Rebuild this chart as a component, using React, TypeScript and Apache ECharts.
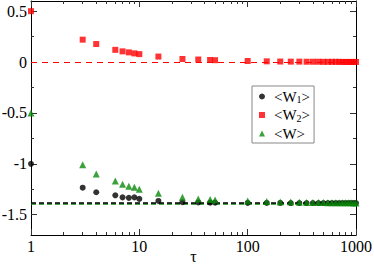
import { useEffect, useRef } from "react";
import * as echarts from "echarts";

const TAU = [1, 3, 4, 6, 7, 8, 9, 10, 15, 25, 35, 45, 50, 100, 150, 200, 250, 300, 350, 400, 450, 500, 550, 600, 650, 700, 750, 800, 850, 900, 950, 1000];
const W1 = [-1.0, -1.235, -1.28, -1.31, -1.33, -1.335, -1.33, -1.345, -1.365, -1.378, -1.38, -1.382, -1.382, -1.384, -1.385, -1.385, -1.386, -1.386, -1.386, -1.386, -1.386, -1.386, -1.386, -1.386, -1.386, -1.386, -1.386, -1.386, -1.386, -1.386, -1.386, -1.386];
const W2 = [0.5, 0.22, 0.177, 0.12, 0.105, 0.095, 0.085, 0.078, 0.054, 0.03, 0.025, 0.02, 0.018, 0.01, 0.007, 0.005, 0.004, 0.004, 0.003, 0.003, 0.003, 0.002, 0.002, 0.002, 0.002, 0.002, 0.001, 0.001, 0.001, 0.001, 0.001, 0.001];
const W = [-0.5, -1.01, -1.1, -1.17, -1.2, -1.22, -1.23, -1.25, -1.29, -1.33, -1.345, -1.35, -1.355, -1.365, -1.37, -1.375, -1.375, -1.378, -1.38, -1.38, -1.381, -1.381, -1.382, -1.382, -1.383, -1.383, -1.383, -1.384, -1.384, -1.384, -1.385, -1.385];

const SERIES_NAMES = ["<W1>", "<W2>", "<W>"];
const Y_TICKS = [-1.5, -1, -0.5, 0, 0.5];
const Y_MINOR = [-1.25, -0.75, -0.25, 0.25];
const X_MINOR = [2, 3, 4, 5, 6, 7, 8, 9, 20, 30, 40, 50, 60, 70, 80, 90, 200, 300, 400, 500, 600, 700, 800, 900];
const W2_LIMIT = 0;
const W1_LIMIT = -1.381;
const W_LIMIT = -1.391;

const FONT = "'Liberation Serif', 'Times New Roman', serif";
const GREEN = "#0a8a0a";
const RED = "#ff0000";

export default function App() {
  const ref = useRef<HTMLDivElement>(null);
  useEffect(() => {
    if (!ref.current) return;
    const chart = echarts.init(ref.current, null, { renderer: "svg" });
    const minorLog = X_MINOR.map((v) => Math.log10(v));
    const axisCol = "#000";
    const tickCol = "#333";
    const majorX = (pos: string) => ({
      type: "log",
      logBase: 10,
      min: 1,
      max: 1000,
      position: pos,
      axisLine: { show: true, onZero: false, lineStyle: { color: axisCol, width: 1 } },
      axisTick: { show: true, inside: true, length: 6, lineStyle: { color: tickCol } },
      axisLabel: pos === "bottom"
        ? { show: true, color: "#000", fontFamily: FONT, fontSize: 16, margin: 3, formatter: (v: number) => String(Math.round(v)) }
        : { show: false },
      splitLine: { show: false },
      name: pos === "bottom" ? "τ" : "",
      nameLocation: "middle",
      nameGap: 13,
      nameMoveOverlap: false,
      nameTextStyle: { color: "#000", fontFamily: FONT, fontSize: 16 },
    });
    const minorX = (pos: string) => ({
      type: "value",
      min: 0,
      max: 3,
      position: pos,
      axisLine: { show: false, onZero: false },
      axisTick: { show: true, inside: true, length: 3, customValues: minorLog, lineStyle: { color: tickCol } },
      axisLabel: { show: false },
      splitLine: { show: false },
    });
    const majorY = (pos: string) => ({
      type: "value",
      min: -1.7,
      max: 0.6,
      position: pos,
      axisLine: { show: true, onZero: false, lineStyle: { color: axisCol, width: 1 } },
      axisTick: { show: true, inside: true, length: 6, customValues: Y_TICKS, lineStyle: { color: tickCol } },
      axisLabel: pos === "left"
        ? { show: true, customValues: Y_TICKS, color: "#000", fontFamily: FONT, fontSize: 16, margin: 4 }
        : { show: false },
      splitLine: { show: false },
    });
    const minorY = (pos: string) => ({
      type: "value",
      min: -1.7,
      max: 0.6,
      position: pos,
      axisLine: { show: false, onZero: false },
      axisTick: { show: true, inside: true, length: 3, customValues: Y_MINOR, lineStyle: { color: tickCol } },
      axisLabel: { show: false },
      splitLine: { show: false },
    });
    const dashLine = (value: number, color: string, type: number[], width: number, z: number) => ({
      silent: true,
      symbol: ["none", "none"],
      label: { show: false },
      z,
      lineStyle: { color, type, width },
      data: [{ yAxis: value }],
    });
    const subs: Record<string, string> = {
      "<W1>": "{b|<W}{s|1}{a|>}",
      "<W2>": "{b|<W}{s|2}{a|>}",
      "<W>": "{b|<W>}",
    };
    const base = { fontFamily: FONT, fontSize: 15, lineHeight: 16, color: "#000" };
    chart.setOption({
      animation: false,
      grid: { left: 31, right: 18, top: 1, bottom: 30, containLabel: false, outerBoundsMode: "none" },
      legend: {
        left: 252,
        top: 86,
        orient: "vertical",
        selectedMode: false,
        data: SERIES_NAMES,
        itemWidth: 6,
        itemHeight: 6,
        itemGap: 3,
        padding: [3, 4, 2, 7],
        borderColor: "#888",
        borderWidth: 1,
        backgroundColor: "#fff",
        formatter: (name: string) => subs[name],
        textStyle: {
          rich: {
            a: base,
            b: { ...base, padding: [0, 0, 0, 4] },
            s: { fontFamily: FONT, fontSize: 10, lineHeight: 6, verticalAlign: "bottom", color: "#000" },
          },
        },
      },
      xAxis: [majorX("bottom"), minorX("bottom"), majorX("top"), minorX("top")],
      yAxis: [majorY("left"), minorY("left"), majorY("right"), minorY("right")],
      series: [
        {
          type: "scatter",
          name: SERIES_NAMES[0],
          xAxisIndex: 0,
          yAxisIndex: 0,
          symbol: "circle",
          symbolSize: 6,
          z: 3,
          itemStyle: { color: "#000" },
          data: TAU.map((t, i) => [t, W1[i]]),
          markLine: dashLine(W1_LIMIT, "#000", [5, 3], 1.5, 1.5),
        },
        {
          type: "scatter",
          name: SERIES_NAMES[1],
          xAxisIndex: 0,
          yAxisIndex: 0,
          symbol: "rect",
          symbolSize: 6,
          z: 3,
          itemStyle: { color: RED },
          data: TAU.map((t, i) => [t, W2[i]]),
          markLine: dashLine(W2_LIMIT, RED, [6, 5], 1, 1),
        },
        {
          type: "scatter",
          name: SERIES_NAMES[2],
          xAxisIndex: 0,
          yAxisIndex: 0,
          symbol: "triangle",
          symbolSize: 7,
          z: 4,
          itemStyle: { color: GREEN },
          data: TAU.map((t, i) => [t, W[i]]),
          markLine: dashLine(W_LIMIT, GREEN, [5, 3], 1.5, 1),
        },
      ],
    });
    return () => chart.dispose();
  }, []);
  return <div ref={ref} style={{ position: "absolute", left: 0, top: 0, width: 374, height: 265 }} />;
}
